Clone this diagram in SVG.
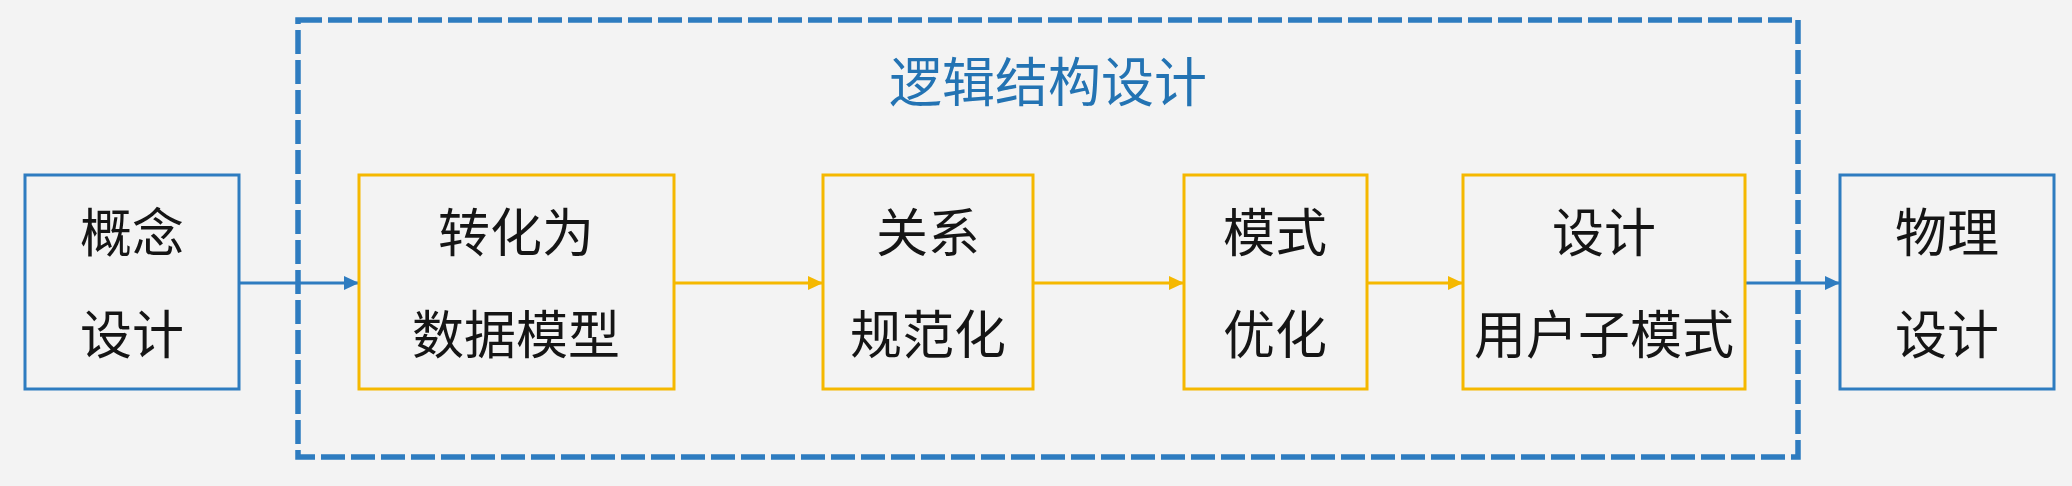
<svg xmlns="http://www.w3.org/2000/svg" width="2072" height="486" viewBox="0 0 2072 486">
  <style>
    .bg { fill: #f3f3f3; }
    .blue { fill: none; stroke: #2e7cc0; stroke-width: 3; }
    .orange { fill: none; stroke: #f5b800; stroke-width: 3; }
    .group { fill: none; stroke: #2e7cc0; stroke-width: 5.5; stroke-dasharray: 24 6; }
    .lbl { font-family: "Noto Sans CJK SC", "Noto Sans", sans-serif; font-size: 52px; fill: #151515; text-anchor: middle; }
    .title { font-family: "Noto Sans CJK SC", "Noto Sans", sans-serif; font-size: 53px; fill: #2373b3; text-anchor: middle; }
    .cb { stroke: #2e7cc0; stroke-width: 3; fill: none; }
    .co { stroke: #f5b800; stroke-width: 3; fill: none; }
  </style>
  <defs>
    <marker id="ab" markerUnits="userSpaceOnUse" markerWidth="16" markerHeight="14" refX="15" refY="7" orient="auto">
      <path d="M0,0 L15,7 L0,14 Z" fill="#2e7cc0"/>
    </marker>
    <marker id="ao" markerUnits="userSpaceOnUse" markerWidth="16" markerHeight="14" refX="15" refY="7" orient="auto">
      <path d="M0,0 L15,7 L0,14 Z" fill="#f5b800"/>
    </marker>
  </defs>
  <rect class="bg" x="0" y="0" width="2072" height="486"/>

  <g id="group-logical">
    <rect class="group" x="298" y="20" width="1500" height="437"/>
    <text class="title" x="1048" y="102">逻辑结构设计</text>
  </g>

  <g id="connectors">
    <line class="cb" x1="240" y1="283" x2="359" y2="283" marker-end="url(#ab)"/>
    <line class="co" x1="675" y1="283" x2="823" y2="283" marker-end="url(#ao)"/>
    <line class="co" x1="1034" y1="283" x2="1184" y2="283" marker-end="url(#ao)"/>
    <line class="co" x1="1368" y1="283" x2="1463" y2="283" marker-end="url(#ao)"/>
    <line class="cb" x1="1746" y1="283" x2="1840" y2="283" marker-end="url(#ab)"/>
  </g>

  <g id="n-concept">
    <rect class="blue" x="25" y="175" width="214" height="214"/>
    <text class="lbl" x="132" y="252">概念</text>
    <text class="lbl" x="132" y="354">设计</text>
  </g>
  <g id="n-convert">
    <rect class="orange" x="359" y="175" width="315" height="214"/>
    <text class="lbl" x="516" y="252">转化为</text>
    <text class="lbl" x="516" y="354">数据模型</text>
  </g>
  <g id="n-normalize">
    <rect class="orange" x="823" y="175" width="210" height="214"/>
    <text class="lbl" x="928" y="252">关系</text>
    <text class="lbl" x="928" y="354">规范化</text>
  </g>
  <g id="n-optimize">
    <rect class="orange" x="1184" y="175" width="183" height="214"/>
    <text class="lbl" x="1275" y="252">模式</text>
    <text class="lbl" x="1275" y="354">优化</text>
  </g>
  <g id="n-subschema">
    <rect class="orange" x="1463" y="175" width="282" height="214"/>
    <text class="lbl" x="1604" y="252">设计</text>
    <text class="lbl" x="1604" y="354">用户子模式</text>
  </g>
  <g id="n-physical">
    <rect class="blue" x="1840" y="175" width="214" height="214"/>
    <text class="lbl" x="1947" y="252">物理</text>
    <text class="lbl" x="1947" y="354">设计</text>
  </g>
</svg>
